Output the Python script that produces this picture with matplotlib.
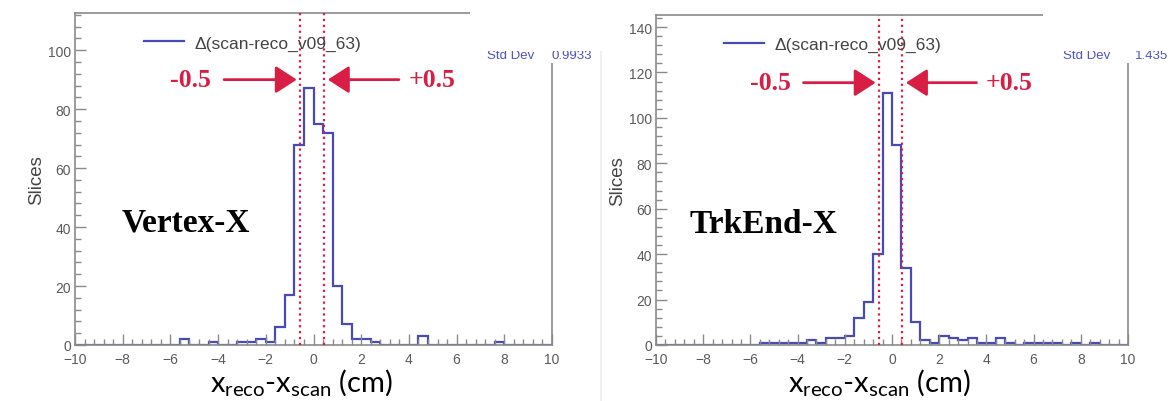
import numpy as np
import matplotlib.pyplot as plt
from matplotlib.patches import Rectangle
from matplotlib.ticker import MultipleLocator

plt.rcParams['mathtext.fontset'] = 'custom'
plt.rcParams['mathtext.rm'] = 'Lato'

# histogram: 50 bins of 0.4 cm from -10 to 10
bin_edges = np.linspace(-10, 10, 51)
vertex_counts = [0, 0, 0, 0, 0, 0, 0, 0, 0, 0,
                 0, 2, 0, 0, 1, 0, 0, 1, 1, 2,
                 1, 6, 17, 68, 87, 75, 72, 20, 7, 2,
                 2, 1, 0, 0, 0, 0, 3, 0, 0, 0,
                 0, 0, 0, 0, 1, 0, 0, 0, 0, 0]
trkend_counts = [0, 0, 0, 0, 0, 0, 0, 0, 0, 0,
                 0, 1, 1, 1, 1, 1, 2, 1, 3, 3,
                 4, 12, 19, 40, 111, 88, 34, 10, 2, 1,
                 4, 3, 2, 3, 1, 1, 3, 1, 0, 1,
                 1, 1, 1, 0, 1, 0, 1, 0, 0, 0]

panels = [
    dict(name='Vertex-X', counts=vertex_counts, ymax=112.6,
         cuts=(-0.57, 0.43), arrow_y=90, name_xy=(-8.05, 38.8),
         std='0.9933'),
    dict(name='TrkEnd-X', counts=trkend_counts, ymax=145.3,
         cuts=(-0.56, 0.42), arrow_y=115.5, name_xy=(-8.57, 49.8),
         std='1.435'),
]

W, H = 1174, 402
fig = plt.figure(figsize=(W / 100, H / 100), dpi=100)

# axes boxes in pixels: left, right, top, bottom
boxes = [(75, 552, 14, 346), (656, 1128, 16, 346)]

blue = '#4a4ab6'
red = '#d81e45'
gray = '#8a8a8a'

for p, (x0, x1, yt, yb) in zip(panels, boxes):
    ax = fig.add_axes([x0 / W, 1 - yb / H, (x1 - x0) / W, (yb - yt) / H])
    ax.stairs(p['counts'], bin_edges, color=blue, lw=1.6,
              label='Δ(scan-reco_v09_63)')
    ax.set_xlim(-10, 10)
    ax.set_ylim(0, p['ymax'])
    ax.xaxis.set_major_locator(MultipleLocator(2))
    ax.xaxis.set_minor_locator(MultipleLocator(0.4))
    ax.yaxis.set_major_locator(MultipleLocator(20))
    ax.yaxis.set_minor_locator(MultipleLocator(4))
    ax.tick_params(which='both', direction='in', color=gray,
                   labelcolor='#5a5a5a', labelsize=10, top=False, right=False)
    ax.tick_params(which='major', length=8, width=1)
    ax.tick_params(which='minor', length=4, width=1)
    ax.tick_params(axis='x', pad=5)
    ax.tick_params(axis='y', pad=3)
    for lab in ax.get_xticklabels() + ax.get_yticklabels():
        lab.set_family('Liberation Sans')
    for s in ax.spines.values():
        s.set_color(gray)
        s.set_linewidth(1.2)
    ax.set_ylabel('Slices', fontsize=13.5, color='#444444',
                  family='Liberation Sans', labelpad=2)

    # cut lines and arrows
    for c in p['cuts']:
        ax.axvline(c, color=red, lw=1.6, ls=':', zorder=3)
    ya = p['arrow_y']
    head = dict(arrowstyle='-|>,head_length=0.65,head_width=0.42',
                color=red, lw=2, mutation_scale=20, shrinkA=0, shrinkB=0)
    ax.annotate('', xy=(p['cuts'][0] - 0.13, ya), xytext=(-3.75, ya),
                arrowprops=head)
    ax.annotate('', xy=(p['cuts'][1] + 0.17, ya), xytext=(3.58, ya),
                arrowprops=head)
    ax.text(-5.17, ya, '-0.5', color=red, fontsize=18.5, fontweight='bold',
            family='Liberation Serif', ha='center', va='center')
    ax.text(4.98, ya, '+0.5', color=red, fontsize=18.5, fontweight='bold',
            family='Liberation Serif', ha='center', va='center')

    ax.text(p['name_xy'][0], p['name_xy'][1], p['name'], fontsize=24,
            fontweight='bold', family='Liberation Serif', color='black',
            ha='left', va='baseline')

    leg = ax.legend(loc='center left', bbox_to_anchor=(0.145, 0.91),
                    frameon=False, handlelength=2.3,
                    handletextpad=0.6, borderpad=0, borderaxespad=0,
                    prop={'family': 'Liberation Sans', 'size': 12.5})
    for t in leg.get_texts():
        t.set_color('#444444')

    # x axis title below
    fig.text(((x0 + x1) / 2 - 12) / W, 1 - 383 / H,
             r'$\mathrm{x_{reco}}$-$\mathrm{x_{scan}}$ (cm)',
             fontsize=21, family='Lato', ha='center', va='center')

    # partly hidden stats box in the top right corner
    fig.add_artist(Rectangle(((x1 - 10) / W, 1 - 64 / H), 22 / W, 12 / H,
                             transform=fig.transFigure, facecolor='white',
                             edgecolor='none', zorder=2))
    fig.text((x1 - 65) / W, 1 - 56 / H, 'Std Dev', fontsize=9.5,
             color='#5050c8', family='Liberation Sans', ha='left',
             va='center', zorder=3)
    fig.text((x1 + 40) / W, 1 - 56 / H, p['std'], fontsize=9.5,
             color='#5050c8', family='Liberation Sans', ha='right',
             va='center', zorder=3)
    cover_x = 470 if x0 < 600 else 1043
    fig.add_artist(Rectangle((cover_x / W, 1 - 52 / H),
                             (x1 + 50 - cover_x) / W, 52 / H,
                             transform=fig.transFigure, facecolor='white',
                             edgecolor='none', zorder=4))

# faint seam between the two pictures
fig.add_artist(plt.Line2D([601 / W, 601 / W], [0, 1], color='#ececec',
                          lw=1.2, transform=fig.transFigure))

fig.savefig('out.png', dpi=100)
